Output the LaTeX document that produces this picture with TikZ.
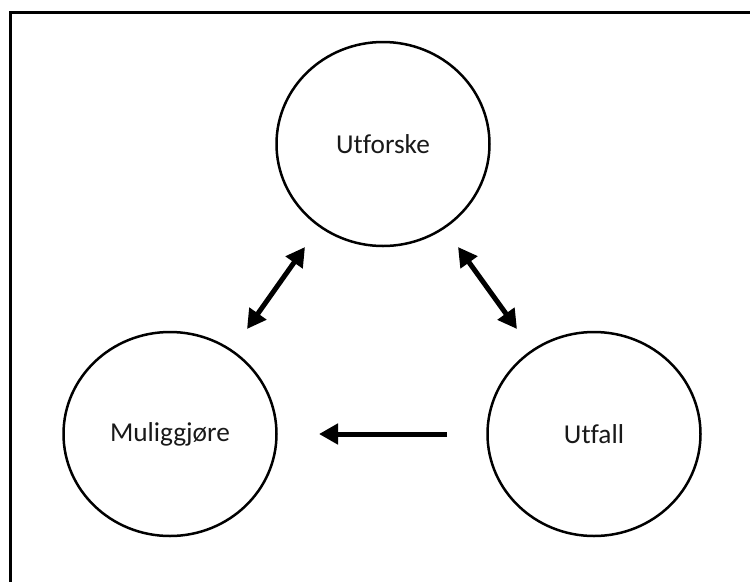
\documentclass[tikz,border=0pt]{standalone}
\usepackage{fontspec}
\setmainfont{Carlito}[RawFeature={-liga;-clig;-dlig}]
\usetikzlibrary{shapes.geometric,arrows.meta}
\tikzset{
  stage/.style={ellipse, draw=black, line width=2.5pt, minimum width=213pt, minimum height=204pt, inner sep=0pt,
    font=\fontsize{27.3}{30}\selectfont, text=black!90},
  arr/.style={line width=5pt, draw=black},
  tip/.style={-{Triangle[length=19pt,width=20pt]}},
  dtip/.style={{Triangle[length=19pt,width=20pt]}-{Triangle[length=19pt,width=20pt]}}
}
\begin{document}
\begin{tikzpicture}[x=1pt,y=-1pt]
\useasboundingbox (0,0) rectangle (750,582);
\draw[line width=3pt] (750,12) -- (10,12) -- (10,582);
\node[stage] (utf) at (383,144) {Utforske};
\node[stage] (mul) at (170,434) {Muliggjøre};
\node[stage] (fal) at (594,434) {Utfall};
\coordinate (a1s) at (247,329);
\coordinate (a1e) at (305,247);
\coordinate (a2s) at (458,247);
\coordinate (a2e) at (517,329);
\coordinate (a3s) at (447,434);
\coordinate (a3e) at (319,434);
\draw[arr,dtip] (a1s) -- (a1e);
\draw[arr,dtip] (a2s) -- (a2e);
\draw[arr,tip] (a3s) -- (a3e);
\end{tikzpicture}
\end{document}
